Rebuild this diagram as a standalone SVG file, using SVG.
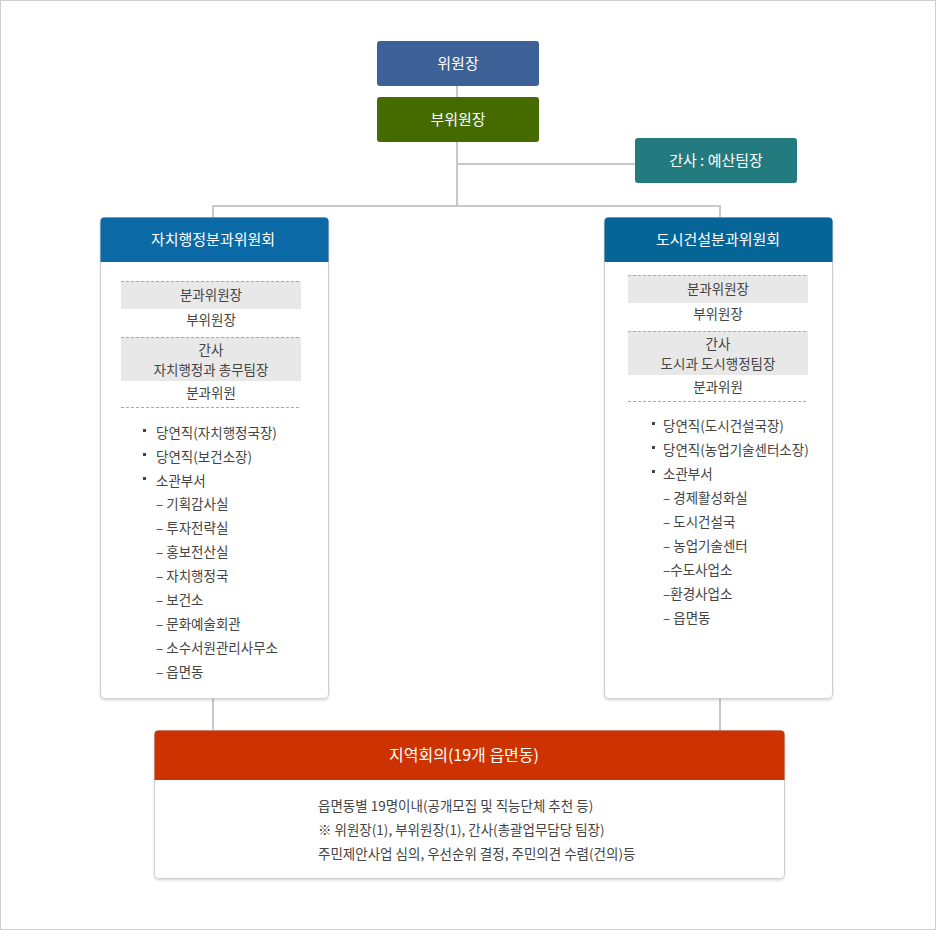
<svg xmlns="http://www.w3.org/2000/svg" width="936" height="930" viewBox="0 0 936 930">
<style>
text{font-family:"Noto Sans CJK KR","Noto Sans",sans-serif}
.hd{fill:#fff;font-size:15px;text-anchor:middle}
.t{fill:#444;font-size:13.5px}
.c{text-anchor:middle}
.ln{stroke:#c8c8c8;stroke-width:2;fill:none}
.dash{stroke:#aaa;stroke-width:1;stroke-dasharray:3,2}
.band{fill:#e8e8e8}
.panel{fill:#fff;stroke:#cfcfcf;stroke-width:1}
</style>
<defs>
<filter id="sh" x="-5%" y="-5%" width="110%" height="110%"><feDropShadow dx="0" dy="1.5" stdDeviation="1" flood-color="#000" flood-opacity="0.15"/></filter>
</defs>
<rect x="0.5" y="0.5" width="935" height="929" fill="#fff" stroke="#cfcfcf"/>
<g id="connectors" class="ln">
<path d="M457 86V97M457 142V206M457 164H635M213 206H720M213 205V217M720 205V217M213 699V730M720 699V730"/>
</g>
<g id="chair"><rect x="377" y="41" width="162" height="45" rx="3" fill="#3d6096"/><text class="hd" x="458" y="69">위원장</text></g>
<g id="vicechair"><rect x="377" y="97" width="162" height="45" rx="3" fill="#446a00"/><text class="hd" x="458" y="125">부위원장</text></g>
<g id="secretary"><rect x="635" y="138" width="162" height="45" rx="3" fill="#237b7f"/><text class="hd" x="716" y="166">간사 : 예산팀장</text></g>
<g id="left-panel">
<rect class="panel" x="100.5" y="217.5" width="228" height="481" rx="4" filter="url(#sh)"/>
<path d="M100.5 262V221.5a4 4 0 0 1 4-4h220a4 4 0 0 1 4 4V262z" fill="#0b69a6"/>
<text class="hd" x="213" y="245">자치행정분과위원회</text>
<rect class="band" x="121" y="281" width="180" height="28"/>
<rect class="band" x="121" y="337" width="180" height="44"/>
<path class="dash" d="M121 281.5H301M121 337.5H301M121 407.5H301"/>
<text class="t c" x="211" y="300">분과위원장</text>
<text class="t c" x="211" y="325">부위원장</text>
<text class="t c" x="211" y="355">간사</text>
<text class="t c" x="211" y="375">자치행정과 총무팀장</text>
<text class="t c" x="211" y="398">분과위원</text>
<g class="t">
<rect x="143" y="429" width="3" height="3" fill="#444"/><text x="156" y="438">당연직(자치행정국장)</text>
<rect x="143" y="453" width="3" height="3" fill="#444"/><text x="156" y="462">당연직(보건소장)</text>
<rect x="143" y="477" width="3" height="3" fill="#444"/><text x="156" y="486">소관부서</text>
<text x="156" y="509">– 기획감사실</text>
<text x="156" y="533">– 투자전략실</text>
<text x="156" y="557">– 홍보전산실</text>
<text x="156" y="581">– 자치행정국</text>
<text x="156" y="605">– 보건소</text>
<text x="156" y="629">– 문화예술회관</text>
<text x="156" y="653">– 소수서원관리사무소</text>
<text x="156" y="677">– 읍면동</text>
</g>
</g>
<g id="right-panel">
<rect class="panel" x="604.5" y="217.5" width="228" height="481" rx="4" filter="url(#sh)"/>
<path d="M604.5 262V221.5a4 4 0 0 1 4-4h220a4 4 0 0 1 4 4V262z" fill="#066597"/>
<text class="hd" x="718" y="245">도시건설분과위원회</text>
<rect class="band" x="628" y="275" width="180" height="28"/>
<rect class="band" x="628" y="331" width="180" height="44"/>
<path class="dash" d="M628 275.5H808M628 331.5H808M628 401.5H808"/>
<text class="t c" x="718" y="294">분과위원장</text>
<text class="t c" x="718" y="319">부위원장</text>
<text class="t c" x="718" y="349">간사</text>
<text class="t c" x="718" y="369">도시과 도시행정팀장</text>
<text class="t c" x="718" y="392">분과위원</text>
<g class="t">
<rect x="652" y="422" width="3" height="3" fill="#444"/><text x="663" y="431">당연직(도시건설국장)</text>
<rect x="652" y="446" width="3" height="3" fill="#444"/><text x="663" y="455">당연직(농업기술센터소장)</text>
<rect x="652" y="470" width="3" height="3" fill="#444"/><text x="663" y="479">소관부서</text>
<text x="663" y="503">– 경제활성화실</text>
<text x="663" y="527">– 도시건설국</text>
<text x="663" y="551">– 농업기술센터</text>
<text x="663" y="575">–수도사업소</text>
<text x="663" y="599">–환경사업소</text>
<text x="663" y="623">– 읍면동</text>
</g>
</g>
<g id="regional-council">
<rect class="panel" x="154.5" y="730.5" width="630" height="148" rx="4" filter="url(#sh)"/>
<path d="M154.5 780V734.5a4 4 0 0 1 4-4h622a4 4 0 0 1 4 4V780z" fill="#cc3300"/>
<text class="hd" x="464" y="761" style="font-size:16px">지역회의(19개 읍면동)</text>
<text class="t" x="318" y="811">읍면동별 19명이내(공개모집 및 직능단체 추천 등)</text>
<text class="t" x="318" y="835">※ 위원장(1), 부위원장(1), 간사(총괄업무담당 팀장)</text>
<text class="t" x="318" y="859">주민제안사업 심의, 우선순위 결정, 주민의견 수렴(건의)등</text>
</g>
</svg>
